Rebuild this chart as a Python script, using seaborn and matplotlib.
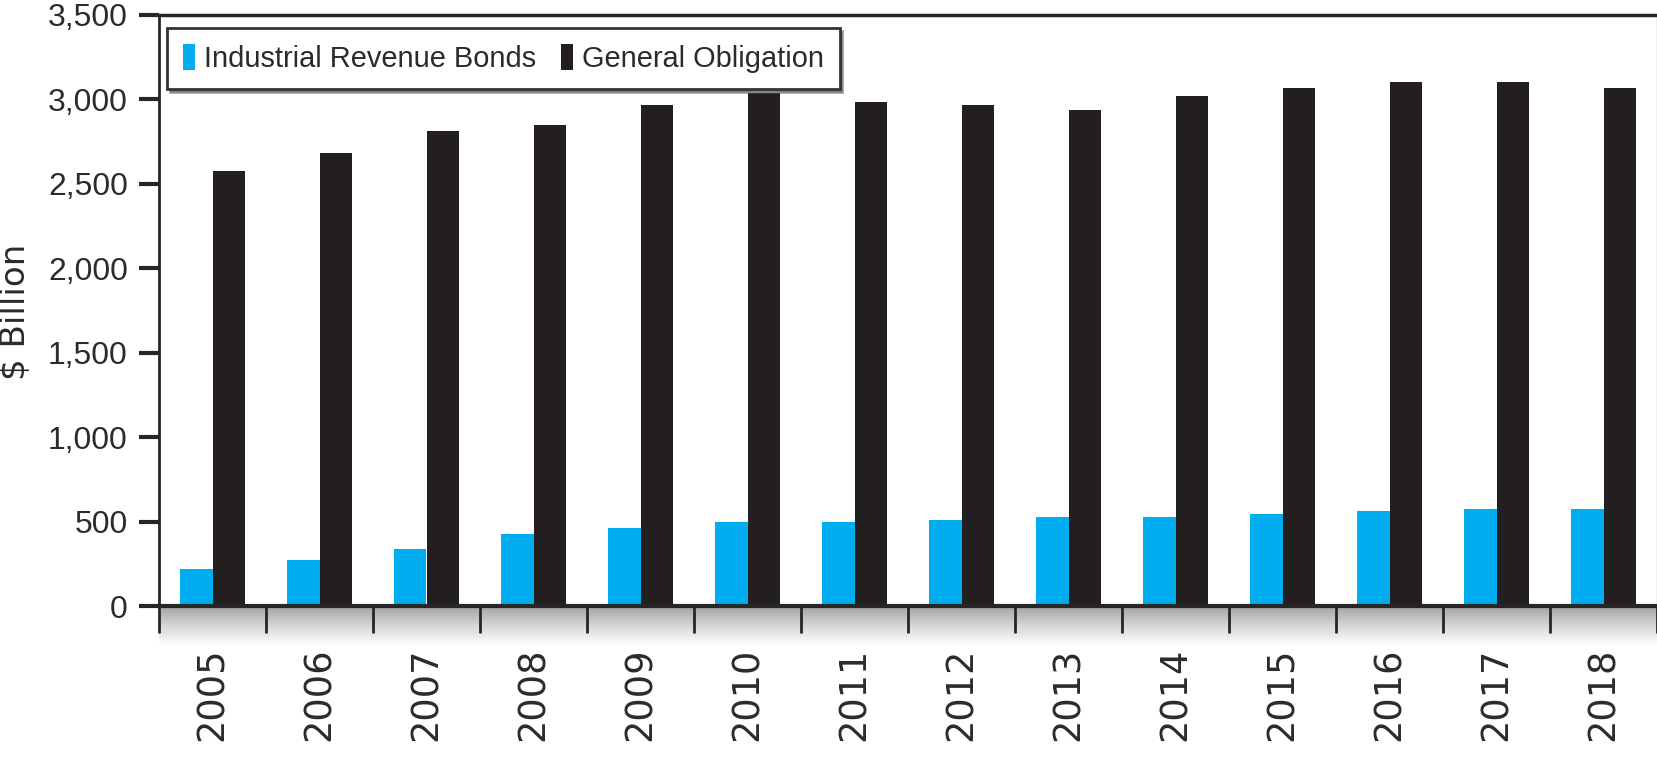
import numpy as np
import pandas as pd
import matplotlib
matplotlib.use("Agg")
import matplotlib.pyplot as plt
from matplotlib import font_manager
from matplotlib.ticker import FuncFormatter, FixedLocator
from matplotlib.colors import LinearSegmentedColormap
import seaborn as sns

# ---- data ($ billion) ----
years = ["2005", "2006", "2007", "2008", "2009", "2010", "2011",
         "2012", "2013", "2014", "2015", "2016", "2017", "2018"]
industrial_revenue = [220, 275, 340, 425, 460, 495, 495,
                      510, 530, 530, 545, 565, 575, 575]
general_obligation = [2575, 2680, 2815, 2850, 2965, 3040, 2985,
                      2965, 2935, 3020, 3070, 3105, 3105, 3070]
series_names = ["Industrial Revenue Bonds", "General Obligation"]
y_ticks = [0, 500, 1000, 1500, 2000, 2500, 3000, 3500]

df = pd.DataFrame({
    "Year": years * 2,
    "Value": industrial_revenue + general_obligation,
    "Series": [series_names[0]] * len(years) + [series_names[1]] * len(years),
})

BLUE = "#00AEEF"
BLACK = "#231F20"
AXIS = "#262626"
TEXT = "#2b2b2b"

sns.set_theme(style="white")

available = {f.name for f in font_manager.fontManager.ttflist}
narrow = "Liberation Sans Narrow" if "Liberation Sans Narrow" in available else "Liberation Sans"
narrow_scale = 1.0 if narrow == "Liberation Sans Narrow" else 0.82
plt.rcParams["font.family"] = ["DejaVu Sans"]

W, H = 1657, 764
fig = plt.figure(figsize=(W / 100, H / 100), dpi=100)
ax_left, ax_right, ax_top, ax_bottom = 159, 1657, 15, 606
ax = fig.add_axes([ax_left / W, 1 - ax_bottom / H,
                   (ax_right - ax_left) / W, (ax_bottom - ax_top) / H])
ax.set_zorder(3)

# soft shadow under the baseline
shadow_ax = fig.add_axes([ax_left / W, 1 - 646 / H, (ax_right - ax_left) / W, 40 / H])
shadow_ax.set_zorder(1)
grad = np.linspace(0, 1, 100).reshape(-1, 1)
cmap = LinearSegmentedColormap.from_list("shade", ["#a3a3a3", "#d8d8d8", "#ffffff"])
shadow_ax.imshow(grad, aspect="auto", cmap=cmap, extent=[0, 1, 0, 1], origin="upper")
shadow_ax.set_axis_off()

sns.barplot(data=df, x="Year", y="Value", hue="Series",
            palette=[BLUE, BLACK], width=0.6, saturation=1,
            edgecolor="none", ax=ax)

ax.set_xlim(-0.5, len(years) - 0.5)
ax.set_ylim(0, 3500)
ax.yaxis.set_major_locator(FixedLocator(y_ticks))
ax.yaxis.set_major_formatter(FuncFormatter(lambda v, p: f"{int(v):,}"))

# spines
for side in ["left", "top", "bottom"]:
    ax.spines[side].set_visible(True)
    ax.spines[side].set_color(AXIS)
ax.spines["left"].set_linewidth(2)
ax.spines["top"].set_linewidth(2.5)
ax.spines["bottom"].set_linewidth(3)
ax.spines["right"].set_visible(True)
ax.spines["right"].set_color("#bbbbbb")
ax.spines["right"].set_linewidth(1)

# y ticks
ax.tick_params(axis="y", which="major", left=True, length=14.5, width=3,
               color=AXIS, pad=8, labelsize=28 * narrow_scale, labelcolor=TEXT)
for lbl in ax.get_yticklabels():
    lbl.set_family(narrow)

# x ticks: boundaries marked, labels centered under groups
ax.set_xticks(np.arange(len(years) + 1) - 0.5, minor=True)
ax.tick_params(axis="x", which="minor", bottom=True, length=19.5, width=2, color=AXIS)
ax.tick_params(axis="x", which="major", bottom=False, length=0, pad=30,
               labelsize=26.5, labelcolor=TEXT)
ax.set_xticks(range(len(years)))
ax.set_xticklabels(years, rotation=90, va="top", ha="center")

ax.set_xlabel("")
ax.set_ylabel("")
fig.text(16 / W, 1 - 312 / H, "$ Billion", rotation=90, ha="center", va="center",
         fontsize=24.5, color=TEXT)

# legend
handles, labels = ax.get_legend_handles_labels()
leg = ax.legend(handles, labels, loc="upper left",
                bbox_to_anchor=((167 - ax_left) / (ax_right - ax_left),
                                1 - (28 - ax_top) / (ax_bottom - ax_top)),
                ncol=2, frameon=True, fancybox=False, shadow=True,
                borderaxespad=0, borderpad=0.55, handlelength=0.42, handleheight=1.0,
                handletextpad=0.3, columnspacing=0.85,
                prop={"family": narrow, "size": 25.5 * narrow_scale})
leg.get_frame().set_edgecolor("#333333")
leg.get_frame().set_linewidth(2)
for t in leg.get_texts():
    t.set_color(TEXT)

fig.savefig("out.png", dpi=100, facecolor="white")
